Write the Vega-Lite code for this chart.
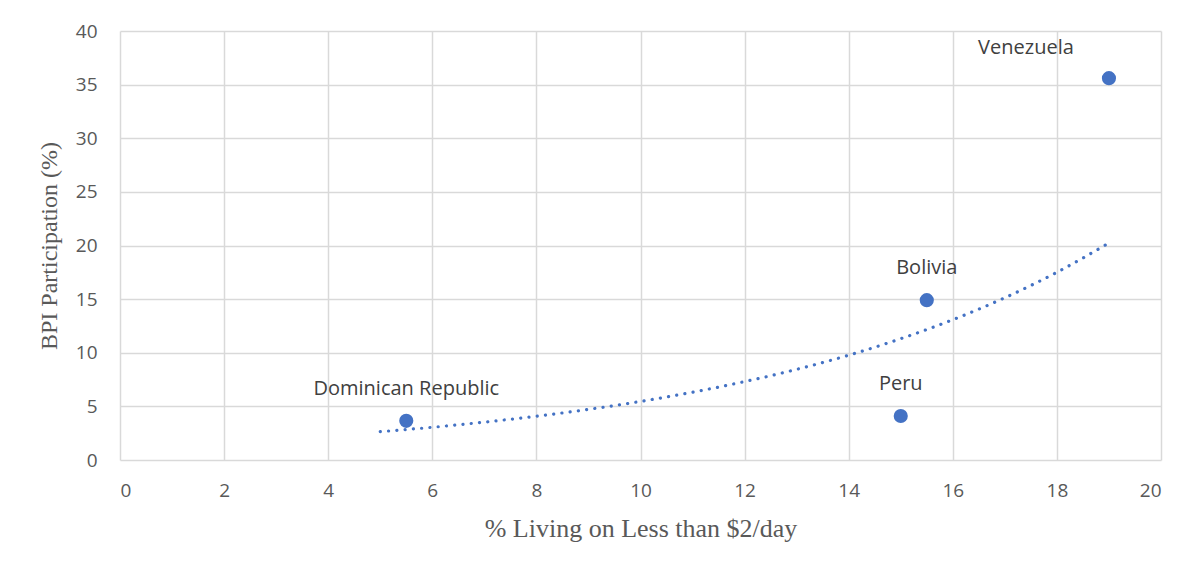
{
  "$schema": "https://vega.github.io/schema/vega-lite/v6.json",
  "autosize": "none",
  "width": 1041,
  "height": 429,
  "padding": {"left": 120, "top": 31, "right": 43, "bottom": 115},
  "background": "white",
  "config": {
    "view": {"stroke": null},
    "axis": {
      "grid": true,
      "gridColor": "#d9d9d9",
      "gridWidth": 1.5,
      "domain": false,
      "ticks": false,
      "labelFont": "Open Sans",
      "labelFontSize": 19,
      "labelColor": "#595959",
      "titleFont": "Liberation Serif",
      "titleFontWeight": "normal",
      "titleColor": "#595959"
    }
  },
  "datasets": {
    "countries": [
      {"country": "Dominican Republic", "poverty": 5.5, "bpi": 3.65},
      {"country": "Peru", "poverty": 15.0, "bpi": 4.1},
      {"country": "Bolivia", "poverty": 15.5, "bpi": 14.9},
      {"country": "Venezuela", "poverty": 19.0, "bpi": 35.6}
    ],
    "trend": [
      {"poverty": 5, "bpi": 2.64},
      {"poverty": 6, "bpi": 3.05},
      {"poverty": 7, "bpi": 3.53},
      {"poverty": 8, "bpi": 4.08},
      {"poverty": 9, "bpi": 4.72},
      {"poverty": 10, "bpi": 5.46},
      {"poverty": 11, "bpi": 6.32},
      {"poverty": 12, "bpi": 7.31},
      {"poverty": 13, "bpi": 8.45},
      {"poverty": 14, "bpi": 9.77},
      {"poverty": 15, "bpi": 11.31},
      {"poverty": 16, "bpi": 13.08},
      {"poverty": 17, "bpi": 15.13},
      {"poverty": 18, "bpi": 17.5},
      {"poverty": 19, "bpi": 20.24}
    ]
  },
  "layer": [
    {
      "data": {"name": "trend"},
      "mark": {"type": "line", "color": "#4472C4", "strokeWidth": 3.2, "strokeCap": "round", "strokeDash": [0.1, 8.2], "interpolate": "monotone"},
      "encoding": {
        "x": {"field": "poverty", "type": "quantitative"},
        "y": {"field": "bpi", "type": "quantitative"}
      }
    },
    {
      "data": {"name": "countries"},
      "mark": {"type": "point", "filled": true, "opacity": 1, "size": 200, "color": "#4472C4"},
      "encoding": {
        "x": {
          "field": "poverty", "type": "quantitative",
          "scale": {"domain": [0, 20], "nice": false, "zero": true},
          "axis": {"values": [0, 2, 4, 6, 8, 10, 12, 14, 16, 18, 20], "labelPadding": 21, "title": "% Living on Less than $2/day", "titleFontSize": 26, "titlePadding": 15}
        },
        "y": {
          "field": "bpi", "type": "quantitative",
          "scale": {"domain": [0, 40], "nice": false},
          "axis": {"values": [0, 5, 10, 15, 20, 25, 30, 35, 40], "labelPadding": 23, "title": "BPI Participation (%)", "titleFontSize": 24, "titlePadding": 14}
        }
      }
    },
    {
      "data": {"name": "countries"},
      "transform": [{"filter": "datum.country !== 'Venezuela'"}],
      "mark": {"type": "text", "font": "Open Sans", "fontSize": 20, "color": "#404040", "dy": -32},
      "encoding": {
        "x": {"field": "poverty", "type": "quantitative"},
        "y": {"field": "bpi", "type": "quantitative"},
        "text": {"field": "country"}
      }
    },
    {
      "data": {"name": "countries"},
      "transform": [{"filter": "datum.country === 'Venezuela'"}],
      "mark": {"type": "text", "font": "Open Sans", "fontSize": 20, "color": "#404040", "dx": -83, "dy": -30},
      "encoding": {
        "x": {"field": "poverty", "type": "quantitative"},
        "y": {"field": "bpi", "type": "quantitative"},
        "text": {"field": "country"}
      }
    }
  ]
}
